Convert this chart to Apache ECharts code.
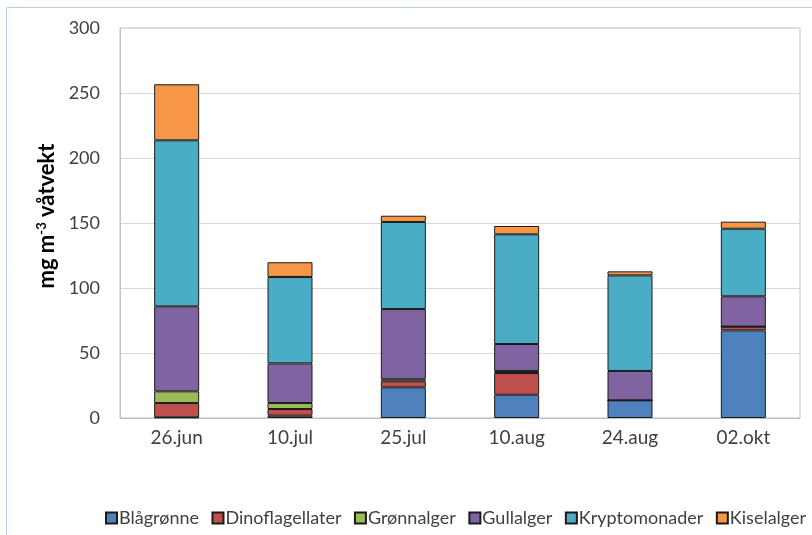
<!DOCTYPE html>
<html>
<head>
<meta charset="utf-8">
<script src="https://cdn.jsdelivr.net/npm/echarts@6/dist/echarts.min.js"></script>
<style>
  html, body { margin: 0; padding: 0; background: #fff; }
  #chart { width: 812px; height: 535px; }
</style>
</head>
<body>
<div id="chart"></div>
<script>
const dates = ['26.jun', '10.jul', '25.jul', '10.aug', '24.aug', '02.okt'];
const yTicks = [0, 50, 100, 150, 200, 250, 300];

const blagronne = [0.5, 1.8, 23.6, 17.9, 13.6, 67.4];
const dinoflagellater = [11, 5.1, 4.6, 16.7, 0, 2.9];
const gronnalger = [9, 4.6, 1.6, 1.6, 0, 0];
const gullalger = [65.4, 30.5, 54, 20.7, 22.6, 23.3];
const kryptomonader = [127.7, 66.5, 67, 84.4, 73.5, 52];
const kiselalger = [43.1, 11.3, 4.8, 6.4, 3.1, 5.4];

const groups = [
  { name: 'Blågrønne', data: blagronne, color: '#4F81BD' },
  { name: 'Dinoflagellater', data: dinoflagellater, color: '#C0504D' },
  { name: 'Grønnalger', data: gronnalger, color: '#9BBB59' },
  { name: 'Gullalger', data: gullalger, color: '#8064A2' },
  { name: 'Kryptomonader', data: kryptomonader, color: '#4BACC6' },
  { name: 'Kiselalger', data: kiselalger, color: '#F79646' }
];

const chart = echarts.init(document.getElementById('chart'), null, { renderer: 'canvas' });

const font = 'Lato, "Liberation Sans", sans-serif';

const option = {
  animation: false,
  textStyle: { fontFamily: font },
  graphic: [{
    type: 'rect',
    shape: { x: 6.5, y: 7.5, width: 900, height: 600 },
    style: { fill: 'none', stroke: '#B9CDE5', lineWidth: 1 },
    silent: true
  }],
  grid: {
    left: 120,
    right: 12,
    top: 28,
    bottom: 117,
    show: true,
    borderColor: '#BFBFBF',
    borderWidth: 1
  },
  legend: {
    bottom: 8,
    left: 105,
    padding: 0,
    itemWidth: 11,
    itemHeight: 11,
    itemGap: 12.5,
    icon: 'rect',
    textStyle: { fontSize: 18, color: '#404040', fontFamily: font, padding: [0, 0, 0, -3] },
    data: groups.map(g => g.name)
  },
  xAxis: {
    type: 'category',
    data: dates,
    axisLine: { lineStyle: { color: '#BFBFBF' } },
    axisTick: { show: false },
    axisLabel: { fontSize: 19, color: '#404040', margin: 10 }
  },
  yAxis: {
    type: 'value',
    min: yTicks[0],
    max: yTicks[yTicks.length - 1],
    interval: 50,
    name: '{a|mg m}{s|-3}{a| våtvekt}',
    nameLocation: 'middle',
    nameRotate: 90,
    nameGap: 59,
    nameTextStyle: {
      padding: [0, 0, 0, 14],
      rich: {
        a: { fontSize: 22, fontWeight: 'bold', color: '#000', fontFamily: font },
        s: { fontSize: 13, fontWeight: 'bold', color: '#000', fontFamily: font, verticalAlign: 'top', padding: [0, 0, 10, 0] }
      }
    },
    axisLine: { show: true, lineStyle: { color: '#BFBFBF' } },
    axisTick: { show: false },
    axisLabel: { fontSize: 18, color: '#404040', margin: 20 },
    splitLine: { lineStyle: { color: '#D9D9D9' } }
  },
  series: groups.map(g => ({
    name: g.name,
    type: 'bar',
    stack: 'total',
    barWidth: 45,
    data: g.data,
    itemStyle: { color: g.color, borderColor: '#1a1a1a', borderWidth: 1 }
  }))
};

chart.setOption(option);
</script>
</body>
</html>
